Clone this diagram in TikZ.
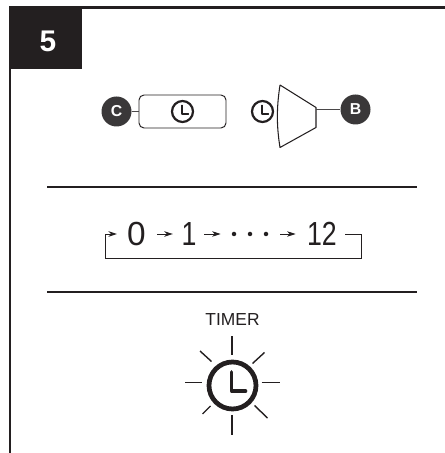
\documentclass[tikz,border=0pt]{standalone}
\usepackage{fontspec}
\setmainfont{Liberation Sans}
\usepackage{tikz}
\usetikzlibrary{arrows.meta, positioning, calc}
\usepackage{xcolor}
\definecolor{inkcolor}{HTML}{231F20}
\definecolor{badgecolor}{HTML}{3A3839}
\definecolor{linecolor}{HTML}{4A4849}
\tikzset{
    badge/.style={circle, fill=badgecolor, text=white, inner sep=0pt, minimum size=0.6cm, font=\fontsize{9}{10}\selectfont\bfseries},
    digit/.style={inner sep=0pt, text=inkcolor, font=\fontsize{19}{20}\selectfont},
    seqdot/.style={circle, fill=inkcolor, inner sep=0pt, minimum size=0.09cm},
    seqarrow/.style={-{Stealth[length=1.7mm, width=1.1mm, inset=0.5mm]}, line width=0.55pt, color=inkcolor},
    wire/.style={line width=0.9pt, color=linecolor},
    sunray/.style={line width=0.8pt, color=inkcolor},
    pics/clockicon/.style={code={
        \draw[color=inkcolor, line width=#1] (0, 0) circle (1);
        \draw[color=inkcolor, line width=0.7*#1, line cap=round, line join=round] (-0.03, 0.58) -- (-0.03, -0.24) -- (0.56, -0.24);
    }}
}

\begin{document}
\begin{tikzpicture}
    \useasboundingbox (0, 0) rectangle (8.9, 9.06);
    % Frame
    \draw[line width=1.2pt, color=inkcolor] (0.2, 0) -- (0.2, 8.91) -- (8.9, 8.91);
    \node[fill=inkcolor, minimum width=1.44cm, minimum height=1.25cm, inner sep=0pt] (stepbox) at (0.92, 8.305) {};
    \node[text=white, inner sep=0pt, font=\fontsize{17}{18}\selectfont\bfseries] (stepnum) at (0.96, 8.24) {5};
    % Button
    \node[draw=inkcolor, line width=0.55pt, rounded corners=0.1cm, minimum width=1.74cm, minimum height=0.66cm] (timerbtn) at (3.65, 6.83) {};
    \node[badge] (badgec) at (2.33, 6.83) {C};
    \draw[wire] (badgec) -- (timerbtn);
    \pic[scale=0.21] at (3.65, 6.83) {clockicon=1.25pt};
    % Unit
    \pic[scale=0.21] at (5.25, 6.83) {clockicon=1.25pt};
    \draw[line width=0.6pt, color=inkcolor, line join=round] (5.6, 7.36) -- (6.32, 6.91) -- (6.32, 6.51) -- (5.6, 6.11) .. controls (5.53, 6.55) and (5.53, 6.9) .. (5.6, 7.36);
    \coordinate (unitjoint) at (6.32, 6.87);
    \node[badge] (badgeb) at (7.11, 6.87) {B};
    \draw[wire] (unitjoint) -- (badgeb);
    % Rules
    \draw[line width=0.8pt, color=inkcolor] (0.94, 5.32) -- (8.34, 5.32);
    \draw[line width=0.8pt, color=inkcolor] (0.94, 3.22) -- (8.34, 3.22);
    % Sequence
    \node[digit] (digitzero) at (2.73, 4.38) {0};
    \node[digit, xscale=0.8] (digitone) at (3.78, 4.38) {1};
    \node[seqdot] (dotone) at (4.68, 4.38) {};
    \node[seqdot] (dottwo) at (5.0, 4.38) {};
    \node[seqdot] (dotthree) at (5.32, 4.38) {};
    \node[digit, xscale=0.8] (digittwelve) at (6.44, 4.38) {12};
    \draw[seqarrow, shorten <=0.225cm, shorten >=0.17cm] (digitzero) -- (digitone);
    \draw[seqarrow, shorten <=0.15cm, shorten >=0.215cm] (digitone) -- (dotone);
    \draw[seqarrow, shorten <=0.235cm, shorten >=0.225cm] (dotthree) -- (digittwelve);
    \coordinate (loopstart) at (6.9, 4.38);
    \coordinate (loopend) at (2.34, 4.38);
    \draw[seqarrow] (loopstart) -- ++(0.32, 0) -- ++(0, -0.48) -- ++(-5.12, 0) -- ++(0, 0.48) -- (loopend);
    % Timer
    \node[font=\fontsize{9.9}{11}\selectfont, text=inkcolor, inner sep=0pt] (timerlabel) at (4.65, 2.66) {TIMER};
    \pic[scale=0.47] at (4.65, 1.35) {clockicon=2.7pt};
    \draw[sunray] (4.64, 2.33) -- (4.64, 1.96);
    \draw[sunray] (4.64, 0.76) -- (4.64, 0.36);
    \draw[sunray] (3.7, 1.41) -- (4.03, 1.41);
    \draw[sunray] (5.23, 1.41) -- (5.59, 1.41);
    \draw[sunray] (4.0, 2.04) -- (4.23, 1.83);
    \draw[sunray] (5.29, 2.01) -- (5.05, 1.79);
    \draw[sunray] (4.21, 0.94) -- (4.05, 0.78);
    \draw[sunray] (5.09, 0.95) -- (5.35, 0.7);
\end{tikzpicture}
\end{document}
